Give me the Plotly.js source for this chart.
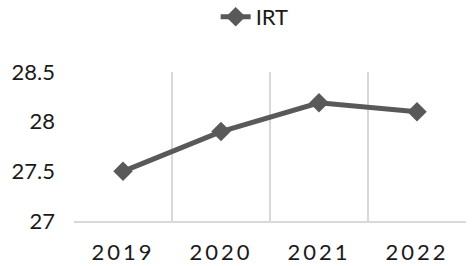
<!DOCTYPE html>
<html>
<head>
<meta charset="utf-8">
<script src="https://cdn.plot.ly/plotly-3.0.1.min.js"></script>
<style>
  html, body { margin: 0; padding: 0; background: #fff; }
  #chart { width: 474px; height: 266px; }
  .xtick text { letter-spacing: 3px; }
</style>
</head>
<body>
<div id="chart"></div>
<script>
// data
const years = ["2019", "2020", "2021", "2022"];
const irt = [27.5, 27.9, 28.19, 28.1];
const yTicks = [27, 27.5, 28, 28.5];
const yTickText = ["27", "27.5", "28", "28.5"];

const lineColor = "#595959";

let trace = {
  x: years,
  y: irt,
  type: "scatter",
  mode: "lines+markers",
  name: "IRT",
  line: { color: lineColor, width: 5 },
  marker: { symbol: "diamond", size: 15, color: lineColor }
};

let layout = {
  width: 474,
  height: 266,
  margin: { l: 74, r: 8, t: 72, b: 45 },
  paper_bgcolor: "#fff",
  plot_bgcolor: "#fff",
  font: { family: "Lato, 'Liberation Sans', sans-serif", color: "#1a1a1a", size: 22 },
  showlegend: true,
  legend: {
    orientation: "h",
    xref: "container",
    yref: "container",
    x: 0.455,
    xanchor: "left",
    y: 0.936,
    yanchor: "middle",
    font: { size: 22 }
  },
  xaxis: {
    type: "category",
    range: [-0.5, 3.5],
    tickson: "boundaries",
    showgrid: true,
    gridcolor: "#d9d9d9",
    gridwidth: 1.5,
    showline: true,
    linecolor: "#d9d9d9",
    linewidth: 1.5,
    ticks: "",
    ticklabelstandoff: 11,
    zeroline: false
  },
  yaxis: {
    range: [27, 28.5],
    tickvals: yTicks,
    ticktext: yTickText,
    showgrid: false,
    showline: false,
    zeroline: false,
    ticks: "",
    ticklabelstandoff: 18
  }
};

Plotly.newPlot("chart", [trace], layout, { displayModeBar: false, staticPlot: true });
</script>
</body>
</html>
